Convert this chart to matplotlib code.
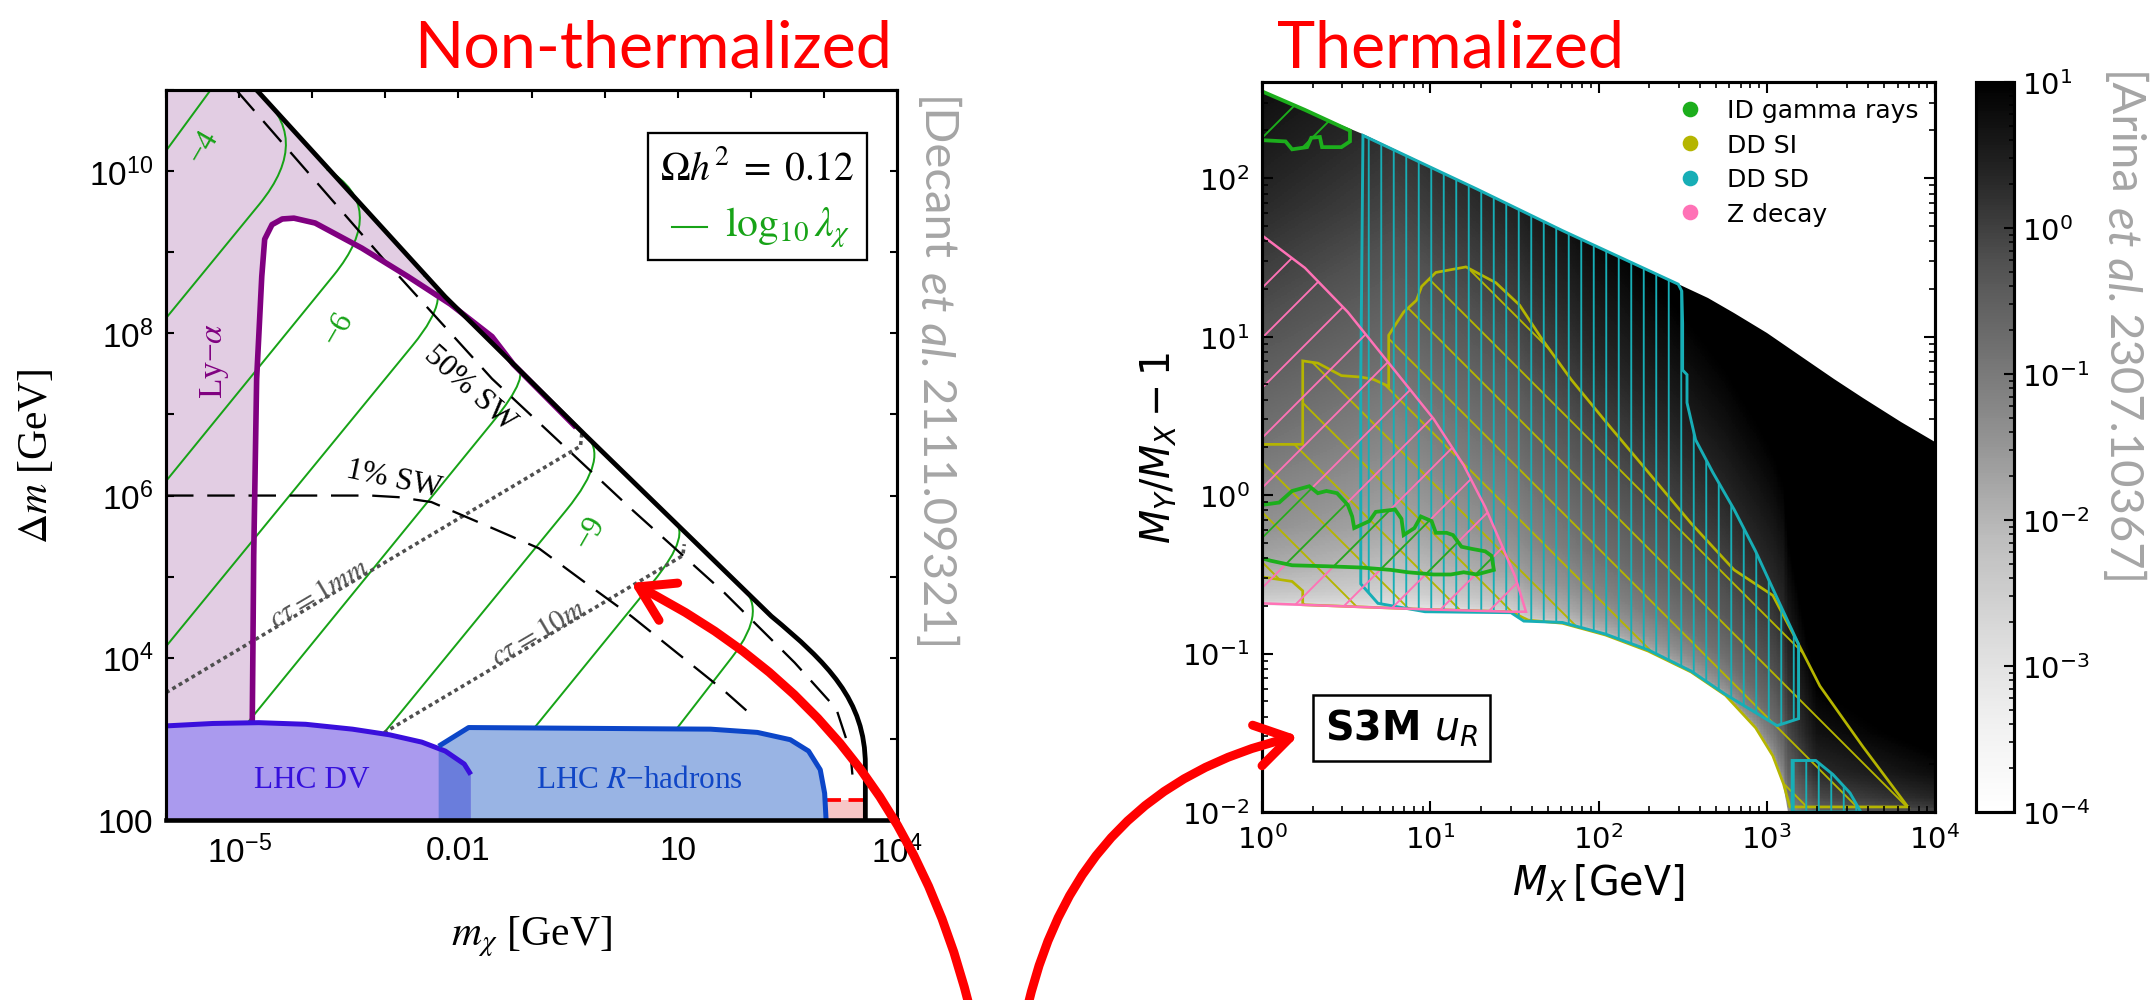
import numpy as np
import matplotlib
matplotlib.use("Agg")
import matplotlib.pyplot as plt
from matplotlib.patches import Polygon, Rectangle, FancyArrowPatch, PathPatch
from matplotlib.path import Path
from matplotlib.colors import LogNorm
from matplotlib.lines import Line2D
from matplotlib.ticker import NullLocator

plt.rcParams["mathtext.fontset"] = "dejavusans"
plt.rcParams["mathtext.rm"] = "Liberation Sans"
plt.rcParams["mathtext.it"] = "Liberation Sans:italic"
plt.rcParams["mathtext.bf"] = "Liberation Sans:bold"
plt.rcParams["hatch.linewidth"] = 0.9

# ------------------------------------------------------------------
# Left panel data (log10 of m_chi [GeV] and Delta m [GeV])
# ------------------------------------------------------------------
# upper kinematic edge: straight part, then a rounded bend (cubic) into the vertical
kin_logm = [-4.76, -2.18, -0.27, 2.28, 3.045, 3.567, 3.567, 3.567]
kin_logdm = [11.0, 8.45, 6.75, 4.513, 3.939, 3.480, 2.676, 2.0]

sw50_logm = [-5.04, -3.01, -1.54, 0.37, 1.64, 2.60, 3.17, 3.36, 3.39]
sw50_logdm = [11.0, 8.90, 7.44, 5.83, 4.80, 3.94, 3.37, 2.85, 2.56]

sw1_logm = [-6.0, -3.2, -2.82, -2.37, -1.54, -0.90, -0.24, 0.37, 1.64, 1.99]
sw1_logdm = [6.0, 6.0, 5.98, 5.92, 5.60, 5.35, 4.91, 4.51, 3.59, 3.31]

ct1mm_logm = [-6.0, -0.33, -0.31]
ct1mm_logdm = [3.57, 6.61, 6.78]
ct10m_logm = [-5.03, 1.07, 1.09]
ct10m_logdm = [2.0, 5.26, 5.40]

lya_logm = [-4.82, -4.80, -4.76, -4.69, -4.65, -4.55, -4.41, -4.25, -3.96,
            -3.32, -2.69, -2.11, -1.54, -1.25, -0.39]
lya_logdm = [3.19, 5.26, 7.44, 8.70, 9.16, 9.34, 9.41, 9.42, 9.36,
             9.05, 8.70, 8.36, 7.96, 7.62, 6.84]

# log10(lambda_chi) contours: start, end of straight run, bend control, end at the edge
lam_c1 = ([-6.000, -5.390], [10.250, 11.000])
lam_c2 = ([-6.000, -4.726, -3.962, -4.790], [8.187, 9.588, 10.428, 11.000])
lam_c3 = ([-6.000, -3.707, -2.943, -3.803], [6.178, 8.715, 9.559, 10.024])
lam_c4 = ([-6.000, -2.624, -2.019, -2.478], [4.140, 7.854, 8.517, 8.715])
lam_c5 = ([-5.968, -1.541, -0.968, -1.236], [2.000, 6.895, 7.527, 7.602])
lam_c6 = ([-3.994, -0.522, 0.083, -0.268], [2.000, 5.822, 6.488, 6.752])
lam_c7 = ([-1.987, 0.656, 1.229, 0.911], [2.000, 4.926, 5.558, 5.707])
lam_c8 = ([0.019, 1.739, 2.280, 1.809], [2.000, 4.002, 4.628, 4.926])
lam_contours = [lam_c1, lam_c2, lam_c3, lam_c4, lam_c5, lam_c6, lam_c7, lam_c8]
lam_labels = ["\u22124", "\u22126", "\u22129"]
lam_label_logm = [-5.49, -3.64, -0.20]
lam_label_logdm = [10.31, 8.07, 5.55]

dv_logm = [-6.0, -5.36, -4.73, -4.09, -3.45, -2.94, -2.50, -2.18, -1.92, -1.83]
dv_logdm = [3.16, 3.19, 3.20, 3.18, 3.12, 3.05, 2.96, 2.85, 2.69, 2.56]
rh_logm = [-2.27, -1.86, 1.45, 2.09, 2.54, 2.79, 2.95, 3.01, 3.03]
rh_logdm = [2.91, 3.14, 3.12, 3.08, 2.99, 2.85, 2.62, 2.33, 2.0]
bbn_logm = [3.03, 3.567]
bbn_logdm = 2.25

# ------------------------------------------------------------------
# Right panel data (log10 of M_X [GeV] and M_Y/M_X - 1)
# ------------------------------------------------------------------
top_logx = [0.0, 0.255, 0.612, 1.276, 1.786, 2.474, 2.65, 2.806, 3.0, 3.189,
            3.4, 3.571, 3.8, 4.0]
top_logy = [2.548, 2.431, 2.270, 1.932, 1.669, 1.331, 1.245, 1.150, 1.020, 0.885,
            0.735, 0.613, 0.460, 0.334]
low_logx = [0.0, 0.969, 1.480, 1.582, 1.786, 2.041, 2.296, 2.551, 2.755,
            2.934, 3.036, 3.099, 3.125]
low_logy = [-0.692, -0.721, -0.736, -0.789, -0.809, -0.883, -0.985, -1.117,
            -1.264, -1.469, -1.645, -1.821, -2.0]

# grey shading: offset along M_X and ramp with height above the lower edge
shade_logx = [0.0, 0.8, 1.5, 2.0, 2.5, 2.9, 3.1, 3.3, 4.0]
shade_shift = [0.2, -0.2, 0.3, 0.8, 1.1, 1.3, 1.35, 2.3, 2.8]
shade_height = [0.0, 0.03, 0.1, 0.25, 0.5, 1.0, 1.7, 2.5, 3.3]
shade_logv = [-3.0, -2.7, -2.4, -2.0, -1.6, -1.1, -0.5, 0.1, 0.6]

id1_logx = [0.0, 0.255, 0.523, 0.523, 0.472, 0.357, 0.344, 0.293, 0.268, 0.179, 0.140, 0.0]
id1_logy = [2.548, 2.431, 2.30, 2.232, 2.196, 2.196, 2.26, 2.255, 2.196, 2.182, 2.232, 2.24]

id2_logx = [0.0, 0.102, 0.179, 0.281, 0.332, 0.383, 0.446, 0.510, 0.536, 0.548,
            0.638, 0.676, 0.791, 0.829, 0.842, 0.906, 0.944, 1.008, 1.033, 1.097,
            1.135, 1.186, 1.25, 1.327, 1.365, 1.378, 1.276, 1.199, 1.122, 1.020,
            0.867, 0.765, 0.587, 0.383, 0.179, 0.051, 0.0]
id2_logy = [-0.062, -0.047, 0.026, 0.056, 0.012, 0.026, 0.012, -0.062, -0.135, -0.208,
            -0.164, -0.106, -0.091, -0.150, -0.252, -0.208, -0.135, -0.164, -0.238, -0.238,
            -0.252, -0.326, -0.340, -0.355, -0.384, -0.472, -0.501, -0.487, -0.501, -0.501,
            -0.487, -0.472, -0.457, -0.449, -0.443, -0.414, -0.399]

si_logx = [0.0, 0.242, 0.242, 0.332, 0.472, 0.587, 0.663, 0.753, 0.753, 0.842,
           0.918, 0.949, 1.033, 1.212, 1.25, 1.390, 1.531, 1.658, 1.837, 2.041,
           2.296, 2.551, 2.806, 3.036, 3.189, 3.316, 3.571, 3.839, 3.138, 3.099,
           3.036, 2.934, 2.755, 2.551, 2.296, 2.041, 1.786, 1.582, 1.480, 0.969,
           0.242, 0.242, 0.179, 0.0]
si_logy = [0.320, 0.320, 0.847, 0.833, 0.754, 0.745, 0.730, 0.686, 1.009, 1.155,
           1.229, 1.317, 1.405, 1.440, 1.419, 1.340, 1.199, 0.994, 0.730, 0.466,
           0.144, -0.179, -0.472, -0.633, -0.941, -1.205, -1.587, -1.968, -1.968, -1.821,
           -1.645, -1.469, -1.264, -1.117, -0.985, -0.883, -0.809, -0.789, -0.736, -0.721,
           -0.692, -0.604, -0.545, -0.516]

sd1_logx = [0.600, 1.276, 1.786, 2.474, 2.495, 2.5, 2.5, 2.526, 2.526, 2.577,
            2.679, 2.806, 2.934, 3.061, 3.189, 3.189, 3.061, 2.755, 2.551, 2.296,
            2.041, 1.786, 1.556, 1.480, 0.969, 0.689, 0.587, 0.587]
sd1_logy = [2.270, 1.932, 1.669, 1.331, 1.287, 1.082, 0.789, 0.760, 0.583, 0.349,
            0.144, -0.091, -0.355, -0.648, -0.941, -1.411, -1.455, -1.258, -1.111, -0.977,
            -0.877, -0.804, -0.795, -0.742, -0.736, -0.683, -0.560, 0.730]
sd2_logx = [3.151, 3.291, 3.393, 3.495, 3.559, 3.151]
sd2_logy = [-1.675, -1.675, -1.763, -1.880, -2.0, -2.0]

zd_logx = [0.0, 0.255, 0.510, 0.765, 1.020, 1.199, 1.327, 1.429, 1.505, 1.569,
           1.480, 0.969, 0.0]
zd_logy = [1.639, 1.434, 1.155, 0.818, 0.481, 0.188, -0.076, -0.326, -0.516, -0.736,
           -0.736, -0.721, -0.683]

legend_names = ["ID gamma rays", "DD SI", "DD SD", "Z decay"]
legend_colors = ["#1cae1c", "#b5b500", "#17aeb6", "#ff72b6"]

# ------------------------------------------------------------------
W, H, DPI = 2156, 1001, 150
fig = plt.figure(figsize=(W / DPI, H / DPI), dpi=DPI)


def px_box(x0, y0, x1, y1):
    return [x0 / W, 1 - y1 / H, (x1 - x0) / W, (y1 - y0) / H]


def pw(a):
    return 10.0 ** np.asarray(a, dtype=float)


SERIF = dict(fontfamily="Liberation Serif", math_fontfamily="stix")

# ============================ left panel ============================
axL = fig.add_axes(px_box(166, 91, 897, 821))
axL.set_xscale("log")
axL.set_yscale("log")
axL.set_xlim(1e-6, 1e4)
axL.set_ylim(1e2, 1e11)

green = "#17a317"

# Lyman-alpha excluded region
k = lya_logm.index(-1.25)
fill_x = [-6.0, -6.0] + [v for v in kin_logm if v < -1.25] + lya_logm[k::-1] + [lya_logm[0]]
fill_y = [2.0, 11.0] + [kin_logdm[i] for i, v in enumerate(kin_logm) if v < -1.25] \
    + lya_logdm[k::-1] + [2.0]
axL.add_patch(Polygon(np.column_stack([pw(fill_x), pw(fill_y)]), closed=True,
                      facecolor="#e2cde3", edgecolor="none", zorder=0.5))

for cx, cy in lam_contours:
    verts = np.column_stack([pw(cx), pw(cy)])
    if len(cx) == 2:
        codes = [Path.MOVETO, Path.LINETO]
    else:
        codes = [Path.MOVETO, Path.LINETO, Path.CURVE3, Path.CURVE3]
    axL.add_patch(PathPatch(Path(verts, codes), fill=False, edgecolor=green, lw=0.95,
                            zorder=1.0))

dot_kw = dict(color="#4f4f4f", lw=1.7, dashes=(1.1, 1.0), zorder=1.2)
axL.plot(pw(ct1mm_logm), pw(ct1mm_logdm), **dot_kw)
axL.plot(pw(ct10m_logm), pw(ct10m_logdm), **dot_kw)

axL.plot(pw(sw50_logm), pw(sw50_logdm), color="black", lw=1.1, dashes=(12, 6), zorder=1.3)
axL.plot(pw(sw1_logm), pw(sw1_logdm), color="black", lw=1.1, dashes=(12, 6), zorder=1.3)

axL.plot(pw(lya_logm), pw(lya_logdm), color="#800080", lw=2.7, zorder=1.6,
         solid_capstyle="butt")
kin_codes = [Path.MOVETO, Path.LINETO, Path.LINETO, Path.LINETO,
             Path.CURVE4, Path.CURVE4, Path.CURVE4, Path.LINETO]
axL.add_patch(PathPatch(Path(np.column_stack([pw(kin_logm), pw(kin_logdm)]), kin_codes),
                        fill=False, edgecolor="black", lw=2.3, zorder=1.8))

# BBN strip
axL.fill_between(pw(bbn_logm), 1e2, 10 ** bbn_logdm, color="#f8c6c6", lw=0, zorder=1.7)
axL.plot(pw(bbn_logm), [10 ** bbn_logdm] * 2, color="red", lw=1.8, dashes=(4, 2), zorder=1.75)

# LHC regions
rh_poly = np.column_stack([pw(rh_logm + [rh_logm[0]]), pw(rh_logdm + [2.0])])
axL.add_patch(Polygon(rh_poly, closed=True, facecolor="#99b4e4", edgecolor="none", zorder=2.0))
dv_poly = np.column_stack([pw(dv_logm + [dv_logm[-1], dv_logm[0]]), pw(dv_logdm + [2.0, 2.0])])
axL.add_patch(Polygon(dv_poly, closed=True, facecolor="#aa9aee", edgecolor="none", zorder=2.05))
x_ov = rh_logm[0]
y_ov = float(np.interp(x_ov, dv_logm, dv_logdm))
ov_x = [x_ov, x_ov] + [v for v in dv_logm if v > x_ov] + [dv_logm[-1]]
ov_y = [2.0, y_ov] + [dv_logdm[i] for i, v in enumerate(dv_logm) if v > x_ov] + [2.0]
axL.add_patch(Polygon(np.column_stack([pw(ov_x), pw(ov_y)]), closed=True,
                      facecolor="#6a7ddc", edgecolor="none", zorder=2.1))
axL.plot(pw(dv_logm), pw(dv_logdm), color="#3a0fdc", lw=2.4, zorder=2.2, solid_capstyle="butt")
axL.plot(pw(rh_logm), pw(rh_logdm), color="#0c46c8", lw=2.4, zorder=2.2, solid_capstyle="butt")

axL.text(0.20, 0.056, "LHC DV", transform=axL.transAxes, ha="center", va="center",
         fontsize=15, color="#3510dc", zorder=3, **SERIF)
axL.text(0.647, 0.056, "LHC $R$\u2212hadrons", transform=axL.transAxes, ha="center",
         va="center", fontsize=15, color="#1046c6", zorder=3, **SERIF)

axL.text(10 ** -5.33, 10 ** 7.67, "Ly\u2212$\\alpha$", rotation=90, ha="center", va="center",
         fontsize=16, color="#800080", zorder=3, **SERIF)
axL.text(10 ** -1.85, 10 ** 7.33, "50% SW", rotation=-42, ha="center", va="center",
         fontsize=15, color="black", zorder=3, rotation_mode="anchor", **SERIF)
axL.text(10 ** -2.88, 10 ** 6.21, "1% SW", rotation=-12, ha="center", va="center",
         fontsize=15, color="black", zorder=3, rotation_mode="anchor", **SERIF)
axL.text(10 ** -3.90, 10 ** 4.80, r"$c\tau = 1mm$", rotation=30.5, ha="center", va="center",
         fontsize=14, color="#555555", zorder=3, rotation_mode="anchor", **SERIF)
axL.text(10 ** -0.90, 10 ** 4.31, r"$c\tau = 10m$", rotation=30.5, ha="center", va="center",
         fontsize=14, color="#555555", zorder=3, rotation_mode="anchor", **SERIF)
for lab, lx_, ly_ in zip(lam_labels, lam_label_logm, lam_label_logdm):
    axL.text(10 ** lx_, 10 ** ly_, lab, rotation=60, ha="center", va="center",
             fontsize=15, color=green, zorder=3, rotation_mode="anchor", **SERIF)

# key box
axL.add_patch(Rectangle((0.659, 0.767), 0.300, 0.174, transform=axL.transAxes,
                        fill=False, edgecolor="black", lw=1.1, zorder=3))
axL.text(0.809, 0.893, r"$\Omega h^2\;=\;0.12$", transform=axL.transAxes, ha="center",
         va="center", fontsize=19, color="black", zorder=3, **SERIF)
axL.plot([0.692, 0.740], [0.812, 0.812], transform=axL.transAxes, color=green, lw=1.0, zorder=3)
axL.text(0.765, 0.812, r"$\log_{10}\lambda_\chi$", transform=axL.transAxes, ha="left",
         va="center", fontsize=20, color=green, zorder=3, **SERIF)

axL.set_xticks(pw(np.arange(-6, 5)),
               labels=["", "$10^{-5}$", "", "", "0.01", "", "", "10", "", "", "$10^{4}$"])
axL.set_yticks(pw(np.arange(2, 12)),
               labels=["100", "", "$10^{4}$", "", "$10^{6}$", "", "$10^{8}$", "",
                       "$10^{10}$", ""])
axL.xaxis.set_minor_locator(NullLocator())
axL.yaxis.set_minor_locator(NullLocator())
axL.tick_params(which="major", direction="in", length=3.6, width=1.0, top=True, right=True,
                labelsize=16)
axL.tick_params(axis="x", pad=7)
axL.tick_params(axis="y", pad=6)
for lbl in axL.get_xticklabels() + axL.get_yticklabels():
    lbl.set_fontfamily("Liberation Sans")
    lbl.set_math_fontfamily("custom")
for name, sp in axL.spines.items():
    sp.set_linewidth(2.2 if name == "bottom" else 1.5)

axL.set_xlabel(r"$m_\chi$ [GeV]", fontsize=20, **SERIF)
axL.xaxis.set_label_coords(0.5, -0.128)
axL.set_ylabel(r"$\Delta m$ [GeV]", fontsize=20, **SERIF)
axL.yaxis.set_label_coords(-0.150, 0.5)

# ============================ right panel ============================
axR = fig.add_axes(px_box(1262, 83, 1935, 813))
axR.set_xscale("log")
axR.set_yscale("log")
axR.set_xlim(1, 1e4)
axR.set_ylim(1e-2, 10 ** 2.607)

lx = np.linspace(0, 4, 480)
ly = np.linspace(-2, 2.607, 480)
LX, LY = np.meshgrid(lx, ly)
floor = np.interp(LX, low_logx, low_logy)
logv = np.interp(LX, shade_logx, shade_shift) + np.interp(LY - floor, shade_height, shade_logv)
norm = LogNorm(1e-4, 1e1)
mesh = axR.pcolormesh(pw(lx), pw(ly), 10 ** logv, cmap="Greys", norm=norm,
                      shading="auto", rasterized=True, zorder=0.5)
reg_x = top_logx + [4.0] + low_logx[::-1]
reg_y = top_logy + [-2.0] + low_logy[::-1]
clip = Polygon(np.column_stack([pw(reg_x), pw(reg_y)]), closed=True,
               transform=axR.transData, facecolor="none", edgecolor="none")
mesh.set_clip_path(clip)


def hatched(xs, ys, color, hatch, lw, z):
    axR.add_patch(Polygon(np.column_stack([pw(xs), pw(ys)]), closed=True,
                          facecolor="none", edgecolor=color, hatch=hatch, lw=lw, zorder=z))


c_id, c_si, c_sd, c_z = legend_colors
hatched(si_logx, si_logy, c_si, "\\", 1.3, 1.0)
hatched(sd1_logx, sd1_logy, c_sd, "||", 1.4, 1.2)
hatched(sd2_logx, sd2_logy, c_sd, "||", 1.4, 1.2)
hatched(zd_logx, zd_logy, c_z, "/", 1.2, 1.3)
hatched(id1_logx, id1_logy, c_id, "/", 1.8, 1.5)
hatched(id2_logx, id2_logy, c_id, "/", 1.8, 1.5)

handles = [Line2D([], [], ls="none", marker="o", ms=6.5, mfc=c, mec=c) for c in legend_colors]
axR.legend(handles, legend_names, loc="upper right", frameon=False, fontsize=12,
           handlelength=0.8, handletextpad=1.1, labelspacing=0.42,
           borderaxespad=0.45, borderpad=0.2)

axR.text(0.207, 0.115, "S3M $u_R$", transform=axR.transAxes, ha="center", va="center",
         fontsize=19, fontweight="bold", zorder=5,
         bbox=dict(boxstyle="square,pad=0.3", facecolor="white", edgecolor="black", lw=1.2))

axR.tick_params(which="both", direction="in", top=True, right=True, labelsize=14)
axR.tick_params(which="major", length=5.5, width=1.0)
axR.tick_params(which="minor", length=2.8, width=0.8)
axR.tick_params(axis="x", pad=6)
axR.tick_params(axis="y", pad=6)
for sp in axR.spines.values():
    sp.set_linewidth(1.5)
axR.set_xlabel(r"$M_X\,[\mathrm{GeV}]$", fontsize=19)
axR.xaxis.set_label_coords(0.5, -0.068)
axR.set_ylabel(r"$M_Y/M_X - 1$", fontsize=19)
axR.yaxis.set_label_coords(-0.122, 0.5)

cax = fig.add_axes(px_box(1976, 83, 2014, 813))
cb = fig.colorbar(mesh, cax=cax)
cb.outline.set_linewidth(1.5)
cax.tick_params(which="both", direction="in", labelsize=14, pad=4)
cax.tick_params(which="major", length=5, width=1.0)
cax.tick_params(which="minor", length=2.5, width=0.8)

# ============================ titles, citations ============================
fig.text(653 / W, 1 - 67 / H, "Non-thermalized", color="red", fontsize=31,
         fontfamily="Lato", ha="center", va="baseline")
fig.text(1450 / W, 1 - 67 / H, "Thermalized", color="red", fontsize=31,
         fontfamily="Lato", ha="center", va="baseline")

renderer = fig.canvas.get_renderer()


def cite_column(x_base, y_top, pieces, size=22.7):
    y = y_top
    gap = 0.22 * size * DPI / 72
    for text, style in pieces:
        t = fig.text(x_base / W, 1 - y / H, text, rotation=-90, rotation_mode="anchor",
                     ha="left", va="baseline", fontsize=size, fontstyle=style,
                     fontfamily="Lato", color="#a5a5a5")
        y += t.get_window_extent(renderer).height + gap


cite_column(921, 97, [("[Decant", "normal"), ("et al.", "italic"), ("2111.09321]", "normal")])
cite_column(2108, 72, [("[Arina", "normal"), ("et al.", "italic"), ("2307.10367]", "normal")])

# ============================ arrows ============================
arrow_kw = dict(transform=fig.transFigure, color="red", lw=4.3, mutation_scale=20,
                arrowstyle="->,head_length=0.8,head_width=0.5", shrinkA=0, shrinkB=0,
                zorder=10)
fig.add_artist(FancyArrowPatch((969 / W, 1 - 1006 / H), (631 / W, 1 - 584 / H),
                               connectionstyle="arc3,rad=0.23", **arrow_kw))
fig.add_artist(FancyArrowPatch((1028 / W, 1 - 1006 / H), (1298 / W, 1 - 737 / H),
                               connectionstyle="arc3,rad=-0.31", **arrow_kw))

fig.savefig("out.png", dpi=DPI)
